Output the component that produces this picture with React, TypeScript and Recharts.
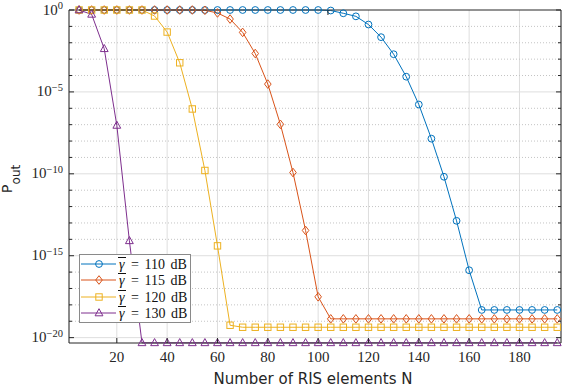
import { LineChart, Line, XAxis, YAxis, CartesianGrid, ReferenceLine, Legend } from 'recharts';

// number of RIS elements
const nValues = [
    5, 10, 15, 20, 25, 30, 35, 40, 45, 50, 55, 60, 65, 70, 75, 80, 85, 90, 95, 100,
    105, 110, 115, 120, 125, 130, 135, 140, 145, 150, 155, 160, 165, 170, 175, 180, 185, 190, 195,
];

// outage probability, gamma = 110 dB
const pOut110 = [
    1, 1, 1, 1, 1, 1, 1, 1, 1, 1, 1, 1, 1, 1, 1, 1, 1, 1, 1, 1,
    0.93, 0.63, 0.41, 0.13, 2.2e-2, 2.0e-3, 8.5e-5, 1.7e-6, 1.4e-8, 6.6e-11, 1.35e-13, 1.3e-16,
    4.9e-19, 4.9e-19, 4.9e-19, 4.9e-19, 4.9e-19, 4.9e-19, 4.9e-19,
];

// gamma = 115 dB
const pOut115 = [
    1, 1, 1, 1, 1, 1, 1, 1, 1, 1, 0.96,
    0.66, 0.28, 4.3e-2, 2.2e-3, 3.0e-5, 1.05e-7, 1.2e-10, 3.5e-14, 3.1e-18,
    1.4e-19, 1.4e-19, 1.4e-19, 1.4e-19, 1.4e-19, 1.4e-19, 1.4e-19, 1.4e-19, 1.4e-19, 1.4e-19,
    1.4e-19, 1.4e-19, 1.4e-19, 1.4e-19, 1.4e-19, 1.4e-19, 1.4e-19, 1.4e-19, 1.4e-19,
];

// gamma = 120 dB
const pOut120 = [
    1, 1, 1, 1, 1, 1,
    0.43, 4.5e-2, 6.0e-4, 9.1e-7, 1.6e-10, 4.0e-15, 5.7e-20,
    4.3e-20, 4.3e-20, 4.3e-20, 4.3e-20, 4.3e-20, 4.3e-20, 4.3e-20, 4.3e-20, 4.3e-20, 4.3e-20,
    4.3e-20, 4.3e-20, 4.3e-20, 4.3e-20, 4.3e-20, 4.3e-20, 4.3e-20, 4.3e-20, 4.3e-20, 4.3e-20,
    4.3e-20, 4.3e-20, 4.3e-20, 4.3e-20, 4.3e-20, 4.3e-20,
];

// gamma = 130 dB
const pOut130 = [
    1, 0.54, 4.3e-3, 9.0e-8, 8.1e-15,
    4.8e-21, 4.8e-21, 4.8e-21, 4.8e-21, 4.8e-21, 4.8e-21, 4.8e-21, 4.8e-21, 4.8e-21, 4.8e-21,
    4.8e-21, 4.8e-21, 4.8e-21, 4.8e-21, 4.8e-21, 4.8e-21, 4.8e-21, 4.8e-21, 4.8e-21, 4.8e-21,
    4.8e-21, 4.8e-21, 4.8e-21, 4.8e-21, 4.8e-21, 4.8e-21, 4.8e-21, 4.8e-21, 4.8e-21, 4.8e-21,
    4.8e-21, 4.8e-21, 4.8e-21, 4.8e-21,
];

const xTicks = [20, 40, 60, 80, 100, 120, 140, 160, 180];
const yTicks = [
    1, 1e-1, 1e-2, 1e-3, 1e-4, 1e-5, 1e-6, 1e-7, 1e-8, 1e-9, 1e-10,
    1e-11, 1e-12, 1e-13, 1e-14, 1e-15, 1e-16, 1e-17, 1e-18, 1e-19, 1e-20,
];
const gammaLabels = ['110', '115', '120', '130'];

const X_DOMAIN: [number, number] = [1, 196.5];
const Y_DOMAIN: [number, number] = [4.7e-21, 1];

const AXIS = '#262626';
const SERIF = '"Liberation Serif", "Times New Roman", serif';
const SANS = '"DejaVu Sans", sans-serif';

type Shape = 'circle' | 'diamond' | 'square' | 'triangle';

const series: { key: string; values: number[]; color: string; shape: Shape; label: string }[] = [
    { key: 'g110', values: pOut110, color: '#0072BD', shape: 'circle', label: gammaLabels[0] },
    { key: 'g115', values: pOut115, color: '#D95319', shape: 'diamond', label: gammaLabels[1] },
    { key: 'g120', values: pOut120, color: '#EDB120', shape: 'square', label: gammaLabels[2] },
    { key: 'g130', values: pOut130, color: '#7E2F8E', shape: 'triangle', label: gammaLabels[3] },
];

const rows = nValues.map((n, i) => {
    const row: Record<string, number> = { n };
    series.forEach((s) => { row[s.key] = s.values[i]; });
    return row;
});

const exponentOf = (v: number) => Math.round(Math.log10(v));

function Marker({ shape, cx, cy, color }: { shape: Shape; cx: number; cy: number; color: string }) {
    const common = { fill: 'none', stroke: color, strokeWidth: 1 };
    if (shape === 'circle') return <circle cx={cx} cy={cy} r={3.4} {...common} />;
    if (shape === 'diamond') {
        return <polygon points={`${cx},${cy - 4.3} ${cx + 3.3},${cy} ${cx},${cy + 4.3} ${cx - 3.3},${cy}`} {...common} />;
    }
    if (shape === 'square') return <rect x={cx - 3.2} y={cy - 3.2} width={6.4} height={6.4} {...common} />;
    return <polygon points={`${cx},${cy - 4.3} ${cx + 3.9},${cy + 2.8} ${cx - 3.9},${cy + 2.8}`} {...common} />;
}

function BottomTick({ x, y, payload }: any) {
    return (
        <g>
            <line x1={x} x2={x} y1={y} y2={y - 5} stroke={AXIS} />
            <text x={x} y={y + 19} textAnchor="middle" fontFamily={SERIF} fontSize={15} fill={AXIS}>
                {payload.value}
            </text>
        </g>
    );
}

function TopTick({ x, y }: any) {
    return <line x1={x} x2={x} y1={y} y2={y + 5} stroke={AXIS} />;
}

function LeftTick({ x, y, payload }: any) {
    const exp = exponentOf(payload.value);
    const major = exp % 5 === 0;
    return (
        <g>
            <line x1={x} x2={x + (major ? 5 : 3)} y1={y} y2={y} stroke={AXIS} />
            {major && (
                <text x={x - 6} y={y + 4.5} textAnchor="end" fontFamily={SERIF} fontSize={15} fill={AXIS}>
                    10<tspan dy={-5.5} fontSize={10.5}>{exp === 0 ? '0' : `\u2212${-exp}`}</tspan>
                </text>
            )}
        </g>
    );
}

function RightTick({ x, y, payload }: any) {
    const major = exponentOf(payload.value) % 5 === 0;
    return <line x1={x} x2={x - (major ? 5 : 3)} y1={y} y2={y} stroke={AXIS} />;
}

function LegendBox() {
    return (
        <div style={{
            border: '1px solid #8a8a8a', background: '#fff', width: 110, padding: '1px 0',
            fontFamily: SERIF, fontSize: 14, color: '#111',
        }}>
            {series.map((s) => (
                <div key={s.key} style={{ display: 'flex', alignItems: 'center', height: 16.3 }}>
                    <svg width={37} height={16} style={{ flex: 'none' }}>
                        <line x1={1} x2={36} y1={8} y2={8} stroke={s.color} />
                        <Marker shape={s.shape} cx={19} cy={8} color={s.color} />
                    </svg>
                    <span style={{
                        marginLeft: 1, whiteSpace: 'pre', lineHeight: '16px', display: 'flex',
                        alignItems: 'baseline', wordSpacing: 2,
                    }}>
                        <span style={{
                            display: 'inline-block', borderTop: '1px solid #111', lineHeight: '11px',
                            fontStyle: 'italic', padding: '1px 1px 0 1px', marginTop: 2,
                        }}>γ</span>
                        {` = ${s.label} dB`}
                    </span>
                </div>
            ))}
        </div>
    );
}

export default function App() {
    const majorY = yTicks.filter((v) => exponentOf(v) % 5 === 0 && v !== 1);
    const minorY = yTicks.filter((v) => exponentOf(v) % 5 !== 0);

    return (
        <div style={{ position: 'absolute', left: 0, top: 0, background: '#fff' }}>
            <LineChart width={562} height={388} data={rows} margin={{ top: 0, right: 0, bottom: 0, left: 0 }}>
                <CartesianGrid horizontal={false} stroke="#dedede" />
                {minorY.map((v) => (
                    <ReferenceLine key={`minor-${v}`} y={v} stroke="#c4c4c4" strokeDasharray="1 2" />
                ))}
                {majorY.map((v) => (
                    <ReferenceLine key={`major-${v}`} y={v} stroke="#dedede" />
                ))}
                <XAxis
                    dataKey="n"
                    type="number"
                    domain={X_DOMAIN}
                    ticks={xTicks}
                    interval={0}
                    height={45}
                    tickSize={0}
                    tickMargin={0}
                    tick={<BottomTick />}
                    stroke={AXIS}
                    label={{
                        content: ({ viewBox }: any) => (
                            <text x={viewBox.x + viewBox.width / 2 - 2} y={384} textAnchor="middle" fontFamily={SANS} fontSize={15} fill={AXIS}>
                                Number of RIS elements N
                            </text>
                        ),
                    }}
                />
                <XAxis
                    xAxisId="top"
                    orientation="top"
                    type="number"
                    domain={X_DOMAIN}
                    allowDataOverflow
                    ticks={xTicks}
                    interval={0}
                    height={10}
                    tickSize={0}
                    tickMargin={0}
                    tick={<TopTick />}
                    stroke={AXIS}
                />
                <YAxis
                    scale="log"
                    type="number"
                    domain={Y_DOMAIN}
                    ticks={yTicks}
                    interval={0}
                    width={69}
                    tickSize={0}
                    tickMargin={0}
                    tick={<LeftTick />}
                    stroke={AXIS}
                    label={{
                        content: ({ viewBox }: any) => {
                            const cx = viewBox.x + 12;
                            const cy = 179;
                            return (
                                <text x={cx} y={cy} transform={`rotate(-90 ${cx} ${cy})`} textAnchor="middle" fontFamily={SANS} fontSize={14.5} fill={AXIS}>
                                    P<tspan dy={8} fontSize={12}>out</tspan>
                                </text>
                            );
                        },
                    }}
                />
                <YAxis
                    yAxisId="right"
                    orientation="right"
                    scale="log"
                    type="number"
                    domain={Y_DOMAIN}
                    allowDataOverflow
                    ticks={yTicks}
                    interval={0}
                    width={1}
                    tickSize={0}
                    tickMargin={0}
                    tick={<RightTick />}
                    stroke={AXIS}
                />
                {series.map((s) => (
                    <Line
                        key={s.key}
                        dataKey={s.key}
                        type="linear"
                        stroke={s.color}
                        strokeWidth={1}
                        isAnimationActive={false}
                        activeDot={false}
                        dot={(p: any) => <Marker key={`${s.key}-${p.index}`} shape={s.shape} cx={p.cx} cy={p.cy} color={s.color} />}
                    />
                ))}
                <Legend
                    layout="vertical"
                    align="center"
                    verticalAlign="middle"
                    content={() => <LegendBox />}
                    wrapperStyle={{ left: 79, top: 254, bottom: 'auto', width: 112, height: 'auto' }}
                />
            </LineChart>
        </div>
    );
}
